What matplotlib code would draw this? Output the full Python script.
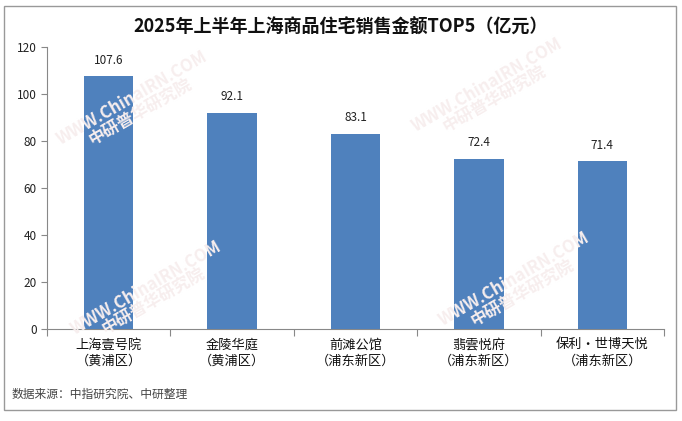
import matplotlib.pyplot as plt
from matplotlib.patches import Rectangle

plt.rcParams['font.family'] = ['Noto Sans CJK SC', 'DejaVu Sans']

# 数据
names = ['上海壹号院\n（黄浦区）', '金陵华庭\n（黄浦区）', '前滩公馆\n（浦东新区）',
         '翡雲悦府\n（浦东新区）', '保利・世博天悦\n（浦东新区）']
values = [107.6, 92.1, 83.1, 72.4, 71.4]
yticks = [0, 20, 40, 60, 80, 100, 120]

fig = plt.figure(figsize=(6.82, 4.21), dpi=100)
ax = fig.add_axes([47 / 682, 1 - 329 / 421, 617 / 682, 282 / 421])
ax.patch.set_alpha(0)

x = list(range(len(values)))
ax.bar(x, values, width=0.4, color='#4F81BD', zorder=3)
for xi, v in zip(x, values):
    ax.text(xi, v + 4, f'{v:.1f}', ha='center', va='bottom', fontsize=8.5, color='#222222')

ax.set_xlim(-0.5, len(values) - 0.5)
ax.set_ylim(0, 120)
ax.set_yticks(yticks)
ax.tick_params(axis='y', labelsize=8.5, length=4, color='#888888', labelcolor='#222222')

# x 轴刻度放在类别之间，标签放在中间
ax.set_xticks([i + 0.5 for i in x[:-1]] + [-0.5, len(values) - 0.5])
ax.set_xticklabels([])
ax.tick_params(axis='x', length=5, color='#888888')
for xi, n in zip(x, names):
    ax.text(xi, -4, n, ha='center', va='top', fontsize=9.5, color='#111111',
            transform=ax.transData, linespacing=1.35)

for side in ['top', 'right']:
    ax.spines[side].set_visible(False)
for side in ['left', 'bottom']:
    ax.spines[side].set_color('#888888')

# 水印（很淡）
for wx, wy in [(0.2, 0.75), (0.72, 0.78), (0.22, 0.3), (0.76, 0.32)]:
    fig.text(wx, wy, 'WWW.ChinaIRN.COM\n中研普华研究院', fontsize=12, fontweight='bold',
             color='#f7eeee', rotation=30, ha='center', va='center', zorder=0,
             linespacing=0.9)

fig.text(0.5, 1 - 27 / 421, '2025年上半年上海商品住宅销售金额TOP5（亿元）',
         ha='center', va='center', fontsize=13, fontweight='bold', color='#111111')
fig.text(12 / 682, 1 - 394 / 421, '数据来源：中指研究院、中研整理',
         ha='left', va='center', fontsize=8.5, color='#444444')

# 外框
fig.patches.append(Rectangle((4 / 682, 1 - 410 / 421), 672 / 682, 404 / 421,
                             transform=fig.transFigure, fill=False,
                             edgecolor='#999999', linewidth=1))

fig.savefig('out.png', dpi=100, facecolor='white')
